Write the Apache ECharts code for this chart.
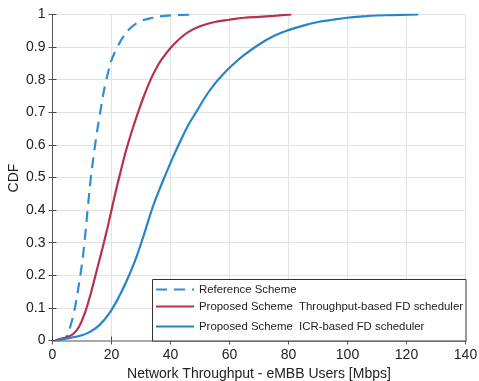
<!DOCTYPE html>
<html>
<head>
<meta charset="utf-8">
<script src="https://cdn.jsdelivr.net/npm/echarts@6/dist/echarts.min.js"></script>
<style>html,body{margin:0;padding:0;background:#fff}#c{width:479px;height:381px}</style>
</head>
<body>
<div id="c"></div>
<script>
var xTicks = [0, 20, 40, 60, 80, 100, 120, 140];
var yTicks = [0, 0.1, 0.2, 0.3, 0.4, 0.5, 0.6, 0.7, 0.8, 0.9, 1];

var refX = [2, 3, 4, 5, 5.5, 6, 7, 8, 9, 10, 11, 12, 13, 14, 15, 16, 17, 18, 19, 20, 22, 24, 26, 28, 30, 34, 38, 42, 47];
var refY = [0, 0.003, 0.006, 0.015, 0.025, 0.042, 0.075, 0.12, 0.175, 0.235, 0.315, 0.41, 0.5, 0.57, 0.635, 0.69, 0.745, 0.79, 0.828, 0.86, 0.9, 0.932, 0.955, 0.97, 0.981, 0.99, 0.996, 0.998, 1.0];

var thrX = [1, 3, 5, 7, 9, 11, 13, 15, 17, 19, 21, 23, 25, 27, 29, 31, 33, 35, 37, 40, 43, 46, 50, 55, 60, 65, 70, 75, 81];
var thrY = [0, 0.006, 0.01, 0.02, 0.042, 0.085, 0.145, 0.215, 0.285, 0.36, 0.44, 0.515, 0.585, 0.645, 0.7, 0.75, 0.795, 0.832, 0.862, 0.897, 0.925, 0.946, 0.964, 0.977, 0.984, 0.99, 0.993, 0.996, 1.0];

var icrX = [1.5, 4, 7, 10, 13, 16, 19, 22, 25, 28, 31, 34, 37, 40, 43, 46, 49, 52, 55, 58, 61, 65, 70, 75, 80, 85, 90, 95, 100, 105, 110, 115, 124];
var icrY = [0, 0.005, 0.01, 0.016, 0.028, 0.048, 0.08, 0.125, 0.18, 0.245, 0.325, 0.41, 0.48, 0.545, 0.605, 0.66, 0.705, 0.75, 0.787, 0.818, 0.845, 0.876, 0.908, 0.934, 0.952, 0.966, 0.977, 0.984, 0.99, 0.994, 0.997, 0.998, 1.0];

var names = ['Reference Scheme', 'Proposed Scheme  Throughput-based FD scheduler', 'Proposed Scheme  ICR-based FD scheduler'];
var yTitle = 'CDF';

function pairs(xs, ys) { return xs.map(function (x, i) { return [x, ys[i]]; }); }

var font = 'Liberation Sans, Arial, sans-serif';
var chart = echarts.init(document.getElementById('c'), null, { renderer: 'canvas' });

function legendAt(name, top) {
  return {
    data: [name], left: 150, top: top, orient: 'vertical', z: 10,
    itemWidth: 38, itemHeight: 10, itemGap: 0, selectedMode: false,
    itemStyle: { opacity: 0, borderWidth: 0 },
    textStyle: { fontFamily: font, fontSize: 11.4, color: '#222' }
  };
}

chart.setOption({
  animation: false,
  grid: { left: 52.5, right: 13.5, top: 14.5, bottom: 40.5, containLabel: false, outerBoundsMode: 'none' },
  xAxis: [{
    type: 'value', min: 0, max: 140, interval: 20,
    axisLine: { show: true, lineStyle: { color: '#444', width: 1 } },
    axisTick: { show: true, inside: true, length: 4, lineStyle: { color: '#444' } },
    axisLabel: { fontFamily: font, fontSize: 14, color: '#222', margin: 8,
      formatter: function (v) { return xTicks.indexOf(v) >= 0 ? String(v) : ''; } },
    splitLine: { show: true, lineStyle: { color: '#e3e3e3', width: 1 } },
    name: 'Network Throughput - eMBB Users [Mbps]', nameLocation: 'middle', nameGap: 26,
    nameTextStyle: { fontFamily: font, fontSize: 14, color: '#222' }
  }, {
    type: 'value', min: 0, max: 140, interval: 20, position: 'top',
    axisLine: { show: true, lineStyle: { color: '#a8a8a8', width: 2 } },
    axisTick: { show: true, inside: true, length: 4, lineStyle: { color: '#555' } },
    axisLabel: { show: false }, splitLine: { show: false }
  }],
  yAxis: [{
    type: 'value', min: 0, max: 1, interval: 0.1,
    axisLine: { show: true, lineStyle: { color: '#444', width: 1 } },
    axisTick: { show: true, inside: true, length: 4, lineStyle: { color: '#444' } },
    axisLabel: { fontFamily: font, fontSize: 14, color: '#222', margin: 7,
      formatter: function (v) { var r = Math.round(v * 10) / 10; return String(r); } },
    splitLine: { show: true, lineStyle: { color: '#e3e3e3', width: 1 } }
  }, {
    type: 'value', min: 0, max: 1, interval: 0.1, position: 'right',
    axisLine: { show: true, lineStyle: { color: '#555', width: 1 } },
    axisTick: { show: true, inside: true, length: 4, lineStyle: { color: '#555' } },
    axisLabel: { show: false }, splitLine: { show: false }
  }],
  legend: [legendAt(names[0], 279), legendAt(names[1], 296), legendAt(names[2], 316)],
  graphic: [{
    type: 'rect', left: 152, top: 279, z: 4,
    shape: { width: 313.5, height: 61.5 },
    style: { fill: '#fff', stroke: '#333', lineWidth: 1 }
  }, {
    type: 'text', x: 14, y: 178, rotation: Math.PI / 2, z: 10,
    style: { text: yTitle, font: '14px ' + font, fill: '#222', align: 'center', verticalAlign: 'middle' }
  }],
  series: [{
    name: names[0], type: 'line', data: pairs(refX, refY), showSymbol: false, symbol: 'none',
    smooth: 0.4, z: 3,
    lineStyle: { color: '#2e8fd6', width: 2.2, type: [11, 7] }, itemStyle: { color: '#2e8fd6' }
  }, {
    name: names[1], type: 'line', data: pairs(thrX, thrY), showSymbol: false, symbol: 'none',
    smooth: 0.4, z: 3,
    lineStyle: { color: '#b8304f', width: 2.2 }, itemStyle: { color: '#b8304f' }
  }, {
    name: names[2], type: 'line', data: pairs(icrX, icrY), showSymbol: false, symbol: 'none',
    smooth: 0.4, z: 3,
    lineStyle: { color: '#2585cc', width: 2.2 }, itemStyle: { color: '#2585cc' }
  }]
});
</script>
</body>
</html>
